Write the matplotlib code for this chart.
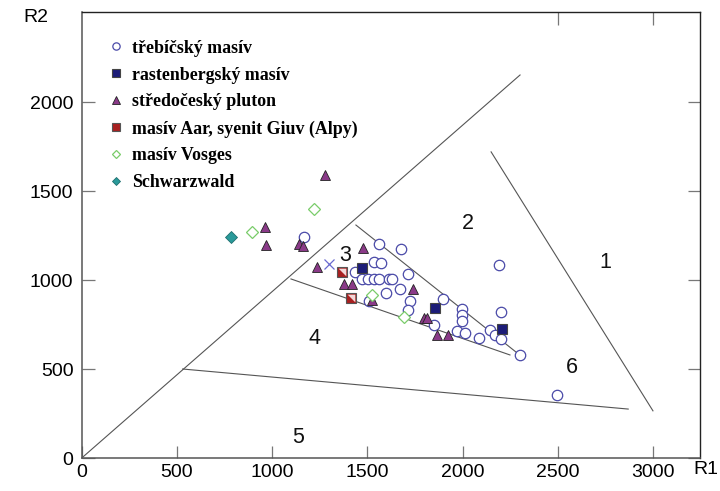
import numpy as np
import matplotlib
matplotlib.use("Agg")
import matplotlib.pyplot as plt
from matplotlib.path import Path

# --------------------
# data (R1, R2)
# --------------------
trebic_r1 = [1167, 1561, 1677, 1535, 1572, 1435, 1713, 1472, 1503, 1535, 1561, 1614,
             1630, 1598, 1671, 1509, 1724, 1713, 1897, 1997, 1997, 1997, 1850, 1971,
             2013, 2086, 2144, 2170, 2202, 2302, 2191, 2202, 2496]
trebic_r2 = [1242, 1202, 1174, 1101, 1096, 1045, 1034, 1006, 1006, 1006, 1006, 1006,
             1006, 927, 949, 882, 882, 831, 893, 837, 803, 770, 747, 713,
             702, 674, 719, 691, 669, 579, 1084, 820, 354]

rasten_r1 = [1472, 1855, 2207]
rasten_r2 = [1067, 843, 725]

stredo_r1 = [1278, 963, 968, 1141, 1162, 1477, 1236, 1377, 1419, 1524, 1740, 1798,
             1813, 1866, 1924]
stredo_r2 = [1590, 1298, 1197, 1202, 1191, 1180, 1073, 978, 978, 888, 949, 787,
             787, 691, 691]

aar_r1 = [1367, 1414]
aar_r2 = [1045, 899]

vosges_r1 = [1220, 894, 1524, 1692]
vosges_r2 = [1399, 1270, 916, 792]

schwarz_r1 = [784]
schwarz_r2 = [1242]

cross_r1 = [1299]
cross_r2 = [1090]

# field boundaries (R1 start, R1 end), (R2 start, R2 end)
bound_r1 = [(0, 2302), (2150, 3000), (530, 2870), (1440, 2300), (1099, 2249)]
bound_r2 = [(0, 2152), (1720, 265), (500, 275), (1309, 579), (1006, 579)]

field_names = ["1", "2", "3", "4", "5", "6"]
field_r1 = [2750, 2026, 1386, 1223, 1134, 2572]
field_r2 = [1096, 1320, 1135, 674, 118, 506]

legend_labels = ["třebíčský masív", "rastenbergský masív", "středočeský pluton",
                 "masív Aar, syenit Giuv (Alpy)", "masív Vosges", "Schwarzwald"]

# half filled square marker for Aar
half_tri = Path([(0.5, 0.5), (0.5, -0.5), (-0.5, 0.5), (0.5, 0.5)])

plt.rcParams['font.family'] = ['Liberation Sans', 'DejaVu Sans']

fig = plt.figure(figsize=(7.2, 4.91), dpi=100)
ax = fig.add_axes([0.1135, 0.0672, 0.8587, 0.9084])

for xs, ys in zip(bound_r1, bound_r2):
    ax.plot(xs, ys, color='#555555', lw=0.8, zorder=1)

for name, fx, fy in zip(field_names, field_r1, field_r2):
    ax.text(fx, fy, name, fontsize=15.5, ha='center', va='center', color='#111111')

h1, = ax.plot(trebic_r1, trebic_r2, 'o', ms=7.5, mfc='white', mec='#4a4aa8',
              mew=0.9, ls='none', zorder=3)
h2, = ax.plot(rasten_r1, rasten_r2, 's', ms=7.5, mfc='#1c1c78', mec='#444444',
              mew=0.8, ls='none', zorder=4)
h3, = ax.plot(stredo_r1, stredo_r2, '^', ms=7.5, mfc='#8a3a88', mec='#222222',
              mew=0.6, ls='none', zorder=4)
h4, = ax.plot(aar_r1, aar_r2, 's', ms=7.5, mfc='#a82020', mec='#555555',
              mew=0.8, ls='none', zorder=4)
ax.plot(aar_r1, aar_r2, marker=half_tri, ms=5.5, mfc='#f2d8d8', mec='none',
        ls='none', zorder=5)
h5, = ax.plot(vosges_r1, vosges_r2, 'D', ms=6, mfc='white', mec='#7acc6a',
              mew=0.9, ls='none', zorder=4)
h6, = ax.plot(schwarz_r1, schwarz_r2, 'D', ms=6, mfc='#2a9a9a', mec='#1f6f6f',
              mew=0.6, ls='none', zorder=4)
ax.plot(cross_r1, cross_r2, 'x', ms=7.5, color='#6a6ad0', mew=0.9, ls='none', zorder=4)

leg = ax.legend([h1, h2, h3, h4, h5, h6], legend_labels, loc='upper left',
                bbox_to_anchor=(0.027, 0.966), frameon=False, handlelength=0.6,
                handletextpad=0.6, labelspacing=0.55, markerscale=0.7,
                borderaxespad=0.3,
                prop={'family': 'Liberation Serif', 'weight': 'bold', 'size': 12.9})

ax.set_xlim(0, 3247)
ax.set_ylim(0, 2506)
ax.set_xticks([0, 500, 1000, 1500, 2000, 2500, 3000])
ax.set_yticks([0, 500, 1000, 1500, 2000])
ax.tick_params(direction='in', length=9, width=0.9, color='#777777',
               labelsize=14, pad=6, right=True)
ax.tick_params(axis='x', pad=4)

top = ax.secondary_xaxis('top')
top.set_xticks([2500, 3000])
top.tick_params(direction='in', length=9, width=0.9, color='#777777', labeltop=False)
top.spines['top'].set_visible(False)

for side in ['left', 'bottom']:
    ax.spines[side].set_color('#555555')
    ax.spines[side].set_linewidth(1.1)
for side in ['top', 'right']:
    ax.spines[side].set_color('#222222')
    ax.spines[side].set_linewidth(1.0)

fig.text(36 / 720, 1 - 18 / 491, "R2", fontsize=14, ha='center', va='center')
fig.text(706 / 720, 1 - 470 / 491, "R1", fontsize=14, ha='center', va='center')

plt.savefig('out.png', dpi=100)
